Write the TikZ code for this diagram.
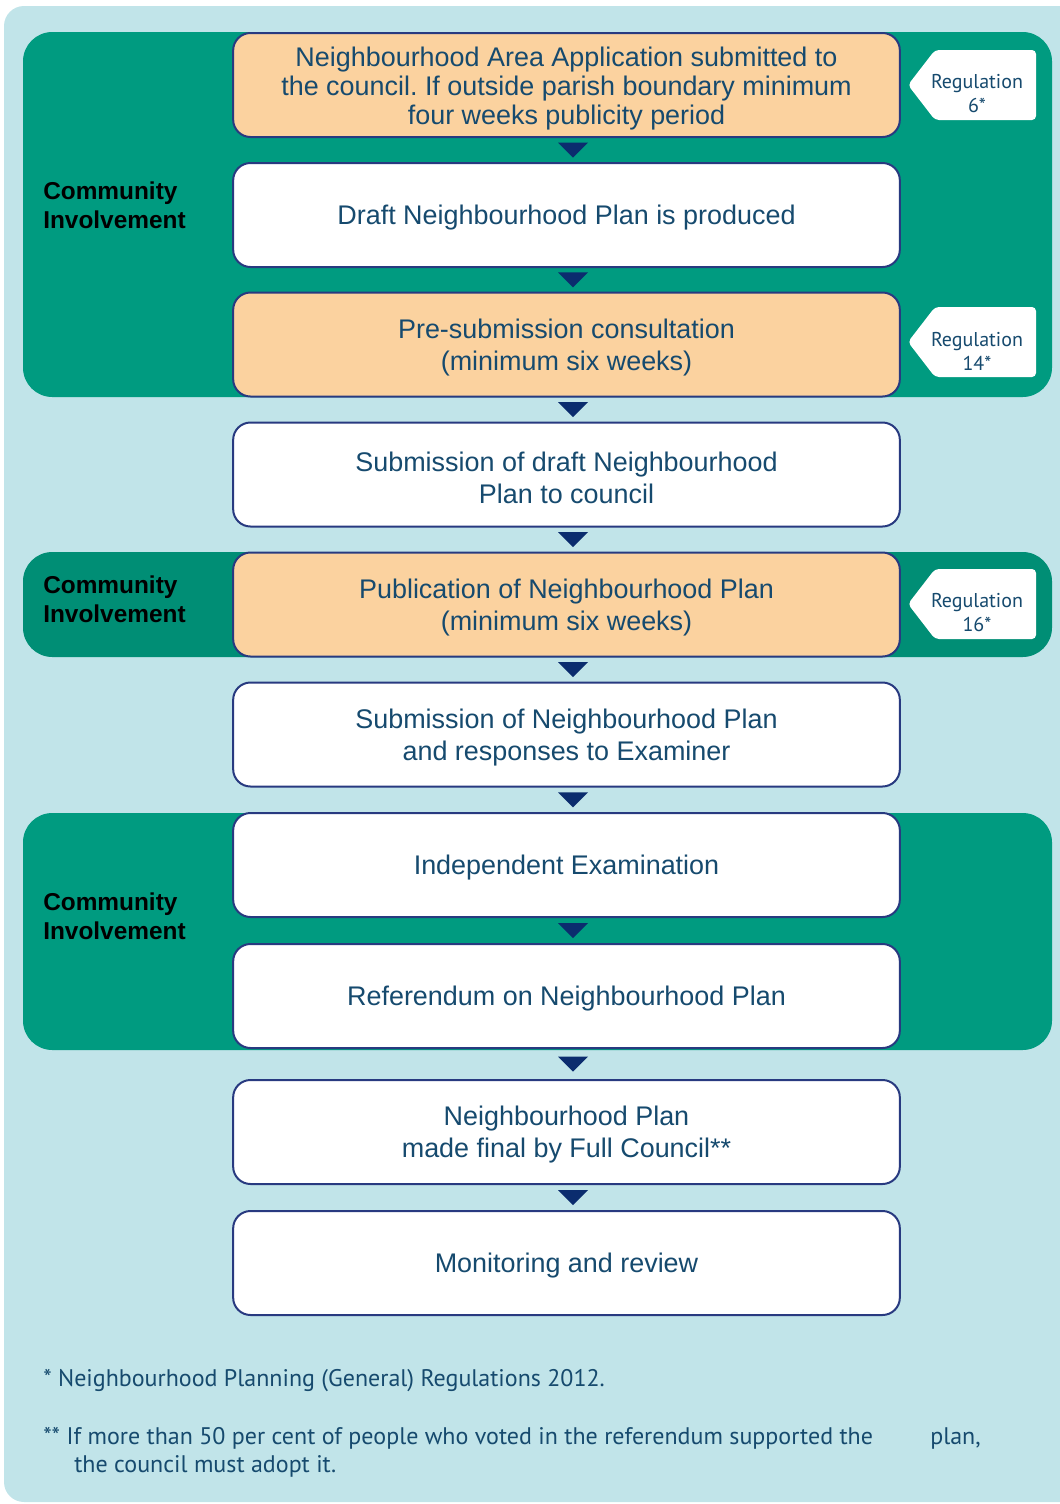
\documentclass[tikz,border=0pt]{standalone}
\usepackage{fontspec}
\setmainfont{Liberation Sans}
\newfontfamily\myr{PT Sans}
\usetikzlibrary{calc}
\frenchspacing
\definecolor{bgblue}{RGB}{193,228,233}
\definecolor{greenA}{RGB}{0,155,128}
\definecolor{greenB}{RGB}{0,142,117}
\definecolor{orangebox}{RGB}{251,210,159}
\definecolor{boxline}{RGB}{40,58,128}
\definecolor{txt}{RGB}{22,74,110}
\definecolor{navy}{RGB}{11,44,110}
\tikzset{
  stepbox/.style={draw=boxline, line width=1.5pt, rounded corners=13pt,
    minimum width=500pt, minimum height=78pt, inner sep=0pt},
  orange/.style={stepbox, fill=orangebox},
  white/.style={stepbox, fill=white},
  boxtext/.style={inner sep=0pt, align=center, text=txt, font=\fontsize{20.2}{24}\selectfont},
  band/.style={rounded corners=22pt},
  comm/.style={anchor=west, align=left, font=\fontsize{18.3}{22}\selectfont\bfseries, text=black, inner sep=0pt},
  tagshape/.style={fill=white, rounded corners=3pt},
  tagtext/.style={align=center, text=txt, font=\myr\fontsize{15}{18}\selectfont, inner sep=0pt},
  foot/.style={anchor=base west, text=txt, font=\myr\fontsize{18}{22}\selectfont, inner sep=0pt},
}
\newcommand{\flowarrow}[2]{%
  \path (#1.south) -- (#2.north) coordinate[pos=0.5] (tmp#1#2);
  \fill[navy] ($(tmp#1#2)+(-8.5,-7.5)$) -- ($(tmp#1#2)+(21.5,-7.5)$) -- ($(tmp#1#2)+(6.5,7.5)$) -- cycle;}
\newcommand{\regtag}[1]{%
  \fill[tagshape] (908,#1) -- (935,#1-35) -- (1036,#1-35) -- (1036,#1+35) -- (935,#1+35) -- cycle;}
\begin{document}
\begin{tikzpicture}[x=0.75pt,y=-0.75pt]
\useasboundingbox (0,0) rectangle (1060,1504);
% background
\fill[bgblue, rounded corners=15pt] (4,6) rectangle (1100,1502);
% bands
\fill[greenA, band] (23,32) rectangle (1052,397);
\fill[greenB, band] (23,552) rectangle (1052,657);
\fill[greenA, band] (23,813) rectangle (1052,1050);
% community labels
\node[comm] (c1) at (43,205) {Community\\Involvement};
\node[comm] (c2) at (43,599.5) {Community\\Involvement};
\node[comm] (c3) at (43,916) {Community\\Involvement};
% boxes
\node[orange] (b1) at (566.5,85) {};
\node[boxtext, font=\fontsize{20.2}{21.75}\selectfont] (t1) at ($(b1)+(0,3.5)$) {Neighbourhood Area Application submitted to\\the council. If outside parish boundary minimum\\four weeks publicity period};
\node[white] (b2) at (566.5,215) {};
\node[boxtext] (t2) at ($(b2)+(0,2.5)$) {Draft Neighbourhood Plan is produced};
\node[orange] (b3) at (566.5,344.5) {};
\node[boxtext] (t3) at ($(b3)+(0,3)$) {Pre-submission consultation\\(minimum six weeks)};
\node[white] (b4) at (566.5,474.5) {};
\node[boxtext] (t4) at ($(b4)+(0,3)$) {Submission of draft Neighbourhood\\Plan to council};
\node[orange] (b5) at (566.5,604.5) {};
\node[boxtext] (t5) at ($(b5)+(0,3)$) {Publication of Neighbourhood Plan\\(minimum six weeks)};
\node[white] (b6) at (566.5,734.5) {};
\node[boxtext] (t6) at ($(b6)+(0,3)$) {Submission of Neighbourhood Plan\\and responses to Examiner};
\node[white] (b7) at (566.5,865) {};
\node[boxtext] (t7) at ($(b7)+(0,2.5)$) {Independent Examination};
\node[white] (b8) at (566.5,996) {};
\node[boxtext] (t8) at ($(b8)+(0,3)$) {Referendum on Neighbourhood Plan};
\node[white] (b9) at (566.5,1132) {};
\node[boxtext] (t9) at ($(b9)+(0,3)$) {Neighbourhood Plan\\made final by Full Council**};
\node[white] (b10) at (566.5,1263) {};
\node[boxtext] (t10) at ($(b10)+(0,3)$) {Monitoring and review};
% arrows
\flowarrow{b1}{b2}
\flowarrow{b2}{b3}
\flowarrow{b3}{b4}
\flowarrow{b4}{b5}
\flowarrow{b5}{b6}
\flowarrow{b6}{b7}
\flowarrow{b7}{b8}
\flowarrow{b8}{b9}
\flowarrow{b9}{b10}
% regulation tags
\regtag{85}
\node[tagtext] (r1) at (977,94) {Regulation\\6*};
\regtag{342}
\node[tagtext] (r2) at (977,351) {Regulation\\14*};
\regtag{604}
\node[tagtext] (r3) at (977,613) {Regulation\\16*};
% footnotes
\node[foot] (f1) at (43,1386) {* Neighbourhood Planning (General) Regulations 2012.};
\node[foot] (f2) at (43,1444) {** If more than 50 per cent of people who voted in the referendum supported the};
\node[foot] (f2b) at (930,1444) {plan,};
\node[foot] (f3) at (74,1472) {the council must adopt it.};
\end{tikzpicture}
\end{document}
